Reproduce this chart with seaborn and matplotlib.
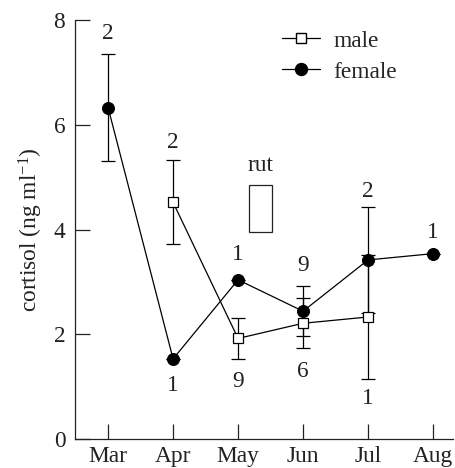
import matplotlib
matplotlib.use("Agg")
import matplotlib.pyplot as plt
import seaborn as sns
import pandas as pd
import numpy as np
from matplotlib.lines import Line2D
from matplotlib.patches import Rectangle

months = ["Mar", "Apr", "May", "Jun", "Jul", "Aug"]

female_months = ["Mar", "Apr", "May", "Jun", "Jul", "Aug"]
female_mean = [6.33, 1.53, 3.04, 2.44, 3.42, 3.54]
female_err = [1.02, 0.0, 0.0, 0.48, 1.01, 0.0]

male_months = ["Apr", "May", "Jun", "Jul"]
male_mean = [4.52, 1.92, 2.21, 2.33]
male_err = [0.80, 0.39, 0.48, 1.19]

# sample-size labels: (month, y position, text)
n_label_months = ["Mar", "Apr", "Apr", "May", "May", "Jun", "Jun", "Jul", "Jul", "Aug"]
n_label_y = [7.75, 5.67, 1.03, 3.52, 1.09, 3.32, 1.28, 4.72, 0.78, 3.95]
n_label_text = ["2", "2", "1", "1", "9", "9", "6", "2", "1", "1"]

FS = 16.8

sns.set_theme(style="ticks")
plt.rcParams["font.family"] = ["Liberation Serif", "DejaVu Serif"]
plt.rcParams["mathtext.fontset"] = "custom"
plt.rcParams["mathtext.rm"] = "Liberation Serif"
plt.rcParams["mathtext.it"] = "Liberation Serif:italic"

pos = {m: i for i, m in enumerate(months)}
df_f = pd.DataFrame({"x": [pos[m] for m in female_months], "y": female_mean, "e": female_err})
df_m = pd.DataFrame({"x": [pos[m] for m in male_months], "y": male_mean, "e": male_err})

fig = plt.figure(figsize=(4.55, 4.68), dpi=100)
ax = fig.add_axes([0.165, 0.062, 0.831, 0.895])

lw = 0.9
ax.errorbar(df_f["x"], df_f["y"], yerr=df_f["e"], fmt="none", ecolor="black",
            elinewidth=lw, capsize=4.7, capthick=lw, zorder=2)
ax.errorbar(df_m["x"], df_m["y"], yerr=df_m["e"], fmt="none", ecolor="black",
            elinewidth=lw, capsize=4.7, capthick=lw, zorder=2)

sns.lineplot(data=df_f, x="x", y="y", ax=ax, color="black", lw=lw, marker="o",
             markersize=8.6, markerfacecolor="black", markeredgecolor="black",
             zorder=3, legend=False)
sns.lineplot(data=df_m, x="x", y="y", ax=ax, color="black", lw=lw, marker="s",
             markersize=7, markerfacecolor="white", markeredgecolor="black",
             markeredgewidth=0.9, zorder=4, legend=False)

for m, yv, t in zip(n_label_months, n_label_y, n_label_text):
    ax.text(pos[m], yv, t, ha="center", va="center", fontsize=FS, color="#222222")

# rut box
ax.add_patch(Rectangle((2.17, 3.95), 0.35, 0.90, fill=False, edgecolor="#222222", lw=0.9))
ax.text(2.345, 5.23, "rut", ha="center", va="center", fontsize=FS, color="#222222")

ax.set_xlim(-0.508, 5.31)
ax.set_ylim(0, 8)
ax.set_xticks(range(len(months)))
ax.set_xticklabels(months)
ax.set_yticks([0, 2, 4, 6, 8])
ax.set_xlabel("")
ax.set_ylabel(r"cortisol (ng ml$^{-1}$)", fontsize=FS, color="#222222", labelpad=6)
ax.tick_params(direction="in", length=11, width=0.9, labelsize=FS,
               colors="#222222")
ax.tick_params(axis="y", pad=7)
ax.tick_params(axis="x", pad=5)
for s in ["top", "right"]:
    ax.spines[s].set_visible(False)
for s in ["left", "bottom"]:
    ax.spines[s].set_linewidth(0.9)
    ax.spines[s].set_color("#222222")

handles = [
    Line2D([], [], color="black", lw=lw, marker="s", markersize=7,
           markerfacecolor="white", markeredgecolor="black"),
    Line2D([], [], color="black", lw=lw, marker="o", markersize=8.6,
           markerfacecolor="black", markeredgecolor="black"),
]
ax.legend(handles, ["male", "female"], loc="upper left", bbox_to_anchor=(0.548, 0.976),
          frameon=False, fontsize=FS, handlelength=1.6, handletextpad=0.6,
          labelspacing=0.42, borderpad=0, borderaxespad=0)

fig.savefig("out.png", dpi=100)
